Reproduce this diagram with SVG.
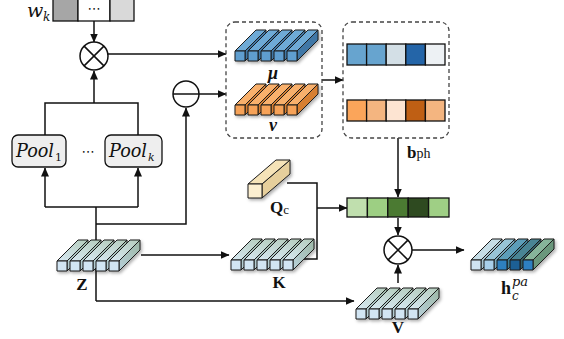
<svg xmlns="http://www.w3.org/2000/svg" xmlns:xlink="http://www.w3.org/1999/xlink" width="564" height="339" viewBox="0 0 564 339">
<style>
.ln{fill:none;stroke:#111;stroke-width:1.5}
.arr{marker-end:url(#ah)}
.dash{fill:none;stroke:#444;stroke-width:1.3;stroke-dasharray:4 3}
.cell{stroke:#111;stroke-width:1.3}
.op{fill:#fff;stroke:#111;stroke-width:1.5}
.lbl{font-family:"Liberation Serif",serif;font-weight:bold;fill:#111}
.math{font-family:"DejaVu Serif",serif;font-style:italic;fill:#111}
.up{font-family:"DejaVu Serif",serif;font-style:normal;fill:#111}
.sub{font-family:"Liberation Serif",serif;fill:#111}
.pool{fill:#eeeeee;stroke:#111;stroke-width:1.3}
</style>
<defs>
<marker id="ah" markerWidth="9" markerHeight="8" refX="8.5" refY="4" orient="auto" markerUnits="userSpaceOnUse"><path d="M0,0 L9,4 L0,8 Z" fill="#111"/></marker>
<linearGradient id="gz" x1="0" y1="1" x2="1" y2="0"><stop offset="0" stop-color="#d8e9f3"/><stop offset="1" stop-color="#b4ccbc"/></linearGradient>
<linearGradient id="gzr" x1="0" y1="1" x2="1" y2="0"><stop offset="0" stop-color="#b7cfd8"/><stop offset="1" stop-color="#9db8a6"/></linearGradient>
<filter id="sh" x="-20%" y="-20%" width="150%" height="150%"><feDropShadow dx="1.5" dy="2" stdDeviation="1.5" flood-color="#000" flood-opacity="0.3"/></filter>
<g id="bar" stroke="#1a1a1a" stroke-width="1" stroke-linejoin="round">
<path d="M10,0 L10,10 L31,-11 L31,-21 Z" style="fill:var(--r)"/>
<path d="M0,0 L10,0 L31,-21 L21,-21 Z" style="fill:var(--t)"/>
<rect width="10" height="10" style="fill:var(--f)"/>
</g>
<g id="tensor">
<use xlink:href="#bar" x="0"/><use xlink:href="#bar" x="13"/><use xlink:href="#bar" x="26"/><use xlink:href="#bar" x="39"/><use xlink:href="#bar" x="52"/>
</g>
</defs>
<rect width="564" height="339" fill="#fff"/>

<g id="connectors">
<line class="ln arr" x1="94" y1="21" x2="94" y2="42"/>
<line class="ln arr" x1="108" y1="54" x2="226" y2="54"/>
<polyline class="ln" points="45,135 45,103 138,103 138,135"/>
<line class="ln arr" x1="94" y1="103" x2="94" y2="71"/>
<polyline class="ln" points="45,207 138,207"/>
<line class="ln arr" x1="45" y1="207" x2="45" y2="168"/>
<line class="ln arr" x1="138" y1="207" x2="138" y2="168"/>
<line class="ln" x1="96" y1="207" x2="96" y2="301"/>
<polyline class="ln arr" points="96,224 186,224 186,108"/>
<line class="ln arr" x1="199" y1="94" x2="226" y2="94"/>
<line class="ln arr" x1="322" y1="80" x2="343" y2="80"/>
<line class="ln arr" x1="398" y1="138" x2="398" y2="197"/>
<polyline class="ln" points="287,183 317,183 317,259 300,259"/>
<line class="ln arr" x1="317" y1="208" x2="347" y2="208"/>
<line class="ln arr" x1="141" y1="255" x2="229" y2="255"/>
<polyline class="ln arr" points="96,301 354,301"/>
<line class="ln arr" x1="398" y1="218" x2="398" y2="235"/>
<line class="ln arr" x1="398" y1="283" x2="398" y2="265"/>
<line class="ln arr" x1="412" y1="250" x2="464" y2="250"/>
</g>

<g id="wk">
<rect class="cell" x="53" y="-2" width="25" height="23" fill="#a6a6a6"/>
<rect class="cell" x="78" y="-2" width="32" height="23" fill="#ffffff"/>
<rect class="cell" x="110" y="-2" width="24" height="23" fill="#d9d9d9"/>
<text x="94" y="13" text-anchor="middle" font-family="DejaVu Sans,sans-serif" font-size="13" fill="#111">⋯</text>
<text class="math" x="27" y="17" font-size="19">w</text><text class="math" x="43" y="21" font-size="12">k</text>
</g>

<g id="mul1"><circle class="op" cx="94" cy="56" r="14"/><path d="M84.1,46.1 L103.9,65.9 M103.9,46.1 L84.1,65.9" class="ln"/></g>
<g id="minus"><circle class="op" cx="186" cy="94" r="13"/><line class="ln" x1="173" y1="94" x2="199" y2="94"/></g>

<g id="pool1"><rect class="pool" x="12" y="135" width="54" height="32" rx="6"/><text class="math" x="16" y="157" font-size="18" textLength="38" lengthAdjust="spacingAndGlyphs">Pool</text><text class="up" x="55" y="161" font-size="11">1</text></g>
<text x="88" y="156" text-anchor="middle" font-family="DejaVu Sans,sans-serif" font-size="13" fill="#111">⋯</text>
<g id="poolk"><rect class="pool" x="105" y="135" width="57" height="32" rx="6"/><text class="math" x="109" y="157" font-size="18" textLength="38" lengthAdjust="spacingAndGlyphs">Pool</text><text class="math" x="148" y="161" font-size="11">k</text></g>

<g id="box1"><rect class="dash" x="226" y="22" width="96" height="116" rx="9"/>
<g id="mu" filter="url(#sh)"><use xlink:href="#tensor" x="235" y="51" style="--f:#5e9ecf;--t:#6eaad6;--r:#3f77a6"/></g>
<text class="lbl" x="273" y="79" font-size="18" font-style="italic" text-anchor="middle">μ</text>
<g id="nu" filter="url(#sh)"><use xlink:href="#tensor" x="235" y="105" style="--f:#f6a258;--t:#f8b06c;--r:#d77f30"/></g>
<text class="lbl" x="273" y="131" font-size="18" font-style="italic" text-anchor="middle">ν</text>
</g>

<g id="box2"><rect class="dash" x="343" y="22" width="106" height="116" rx="9"/>
<rect class="cell" x="347" y="44" width="19.6" height="21" fill="#67a4cf"/>
<rect class="cell" x="366.6" y="44" width="19.6" height="21" fill="#67a4cf"/>
<rect class="cell" x="386.2" y="44" width="19.6" height="21" fill="#d3dfe6"/>
<rect class="cell" x="405.8" y="44" width="19.6" height="21" fill="#2465a8"/>
<rect class="cell" x="425.4" y="44" width="19.6" height="21" fill="#edf1f4"/>
<rect class="cell" x="347" y="100" width="19.6" height="21" fill="#fba55a"/>
<rect class="cell" x="366.6" y="100" width="19.6" height="21" fill="#f4b580"/>
<rect class="cell" x="386.2" y="100" width="19.6" height="21" fill="#fde4d2"/>
<rect class="cell" x="405.8" y="100" width="19.6" height="21" fill="#bf5f14"/>
<rect class="cell" x="425.4" y="100" width="19.6" height="21" fill="#f4b580"/>
</g>
<text class="lbl" x="407" y="158" font-size="17">b<tspan class="sub" font-weight="normal" font-size="14">ph</tspan></text>

<g id="green">
<rect class="cell" x="347" y="198" width="20.4" height="19" fill="#c0dfae"/>
<rect class="cell" x="367.4" y="198" width="20.4" height="19" fill="#9dcf83"/>
<rect class="cell" x="387.8" y="198" width="20.4" height="19" fill="#4b7a32"/>
<rect class="cell" x="408.2" y="198" width="20.4" height="19" fill="#2e4a20"/>
<rect class="cell" x="428.6" y="198" width="20.4" height="19" fill="#9fcf85"/>
</g>

<g id="mul2"><circle class="op" cx="398" cy="250" r="14"/><path d="M388.1,240.1 L407.9,259.9 M407.9,240.1 L388.1,259.9" class="ln"/></g>

<g id="Qc" filter="url(#sh)" stroke="#1a1a1a" stroke-width="1" stroke-linejoin="round">
<path d="M262,184 L262,198 L290,174 L290,160 Z" fill="#e6cf9c"/>
<path d="M248,184 L262,184 L290,160 L276,160 Z" fill="#f5e3b8"/>
<rect x="248" y="184" width="14" height="14" fill="#fcefd0"/>
</g>
<text class="lbl" x="270" y="213" font-size="17">Q<tspan class="sub" font-weight="normal" font-size="13" dy="1">c</tspan></text>

<g id="Z" filter="url(#sh)"><use xlink:href="#tensor" x="57" y="261" style="--f:#d2e5f3;--t:url(#gz);--r:url(#gzr)"/></g>
<text class="lbl" x="82" y="290" font-size="17" text-anchor="middle">Z</text>
<g id="K" filter="url(#sh)"><use xlink:href="#tensor" x="231" y="260" style="--f:#d2e5f3;--t:url(#gz);--r:url(#gzr)"/></g>
<text class="lbl" x="279" y="288" font-size="17" text-anchor="middle">K</text>
<g id="V" filter="url(#sh)"><use xlink:href="#tensor" x="356" y="309" style="--f:#d2e5f3;--t:url(#gz);--r:url(#gzr)"/></g>
<text class="lbl" x="398" y="333" font-size="17" text-anchor="middle">V</text>

<g id="h" filter="url(#sh)">
<use xlink:href="#bar" x="471" y="260" style="--f:#cfe3f2;--t:#c6dde6;--r:#a9c4d0"/>
<use xlink:href="#bar" x="484" y="260" style="--f:#a9cfe9;--t:#98c4d6;--r:#7aa9bd"/>
<use xlink:href="#bar" x="497" y="260" style="--f:#2f80c0;--t:#5c9db8;--r:#3f7f96"/>
<use xlink:href="#bar" x="510" y="260" style="--f:#1f5e95;--t:#4a8494;--r:#335f68"/>
<use xlink:href="#bar" x="523" y="260" style="--f:#2f80c2;--t:#86b49a;--r:#6a977c"/>
</g>
<text class="lbl" x="501" y="294" font-size="18">h</text>
<text class="math" x="512" y="286" font-size="13">pa</text>
<text class="math" x="512" y="300" font-size="12">c</text>
</svg>
